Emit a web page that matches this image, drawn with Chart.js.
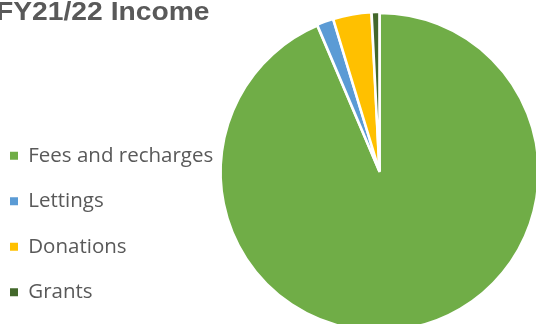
<!DOCTYPE html>
<html>
<head>
<meta charset="utf-8">
<script src="https://cdn.jsdelivr.net/npm/chart.js@4/dist/chart.umd.min.js"></script>
<style>
  html, body { margin: 0; padding: 0; background: #ffffff; overflow: hidden; width: 536px; height: 324px; }
  #wrap { position: absolute; left: -15px; top: 0; }
</style>
</head>
<body>
<div id="wrap"><canvas id="c" width="559" height="340"></canvas></div>
<script>
const TITLE = 'FY21/22 Income';
const CATEGORIES = ['Fees and recharges', 'Lettings', 'Donations', 'Grants'];
const VALUES = [93.6, 1.7, 3.9, 0.8];
const COLORS = ['#70AD47', '#5B9BD5', '#FFC000', '#43682B'];

const legendWidthPlugin = {
  id: 'legendWidth',
  beforeInit(chart) {
    const orig = chart.legend.fit;
    chart.legend.fit = function () {
      orig.call(this);
      this.width = 230;
    };
  }
};

const titlePlugin = {
  id: 'stretchedTitle',
  afterDraw(chart) {
    const ctx = chart.ctx;
    ctx.save();
    ctx.fillStyle = '#595959';
    ctx.font = 'bold 25px "Liberation Sans", Arial, sans-serif';
    ctx.textBaseline = 'alphabetic';
    ctx.translate(11, 19.5);
    ctx.scale(1.13, 1);
    ctx.fillText(TITLE, 0, 0);
    ctx.restore();
  }
};

new Chart(document.getElementById('c'), {
  type: 'pie',
  data: {
    labels: CATEGORIES,
    datasets: [{
      data: VALUES,
      backgroundColor: COLORS,
      borderColor: '#ffffff',
      borderWidth: 2.5,
      offset: 2,
      hoverOffset: 0,
      clip: false
    }]
  },
  options: {
    responsive: false,
    devicePixelRatio: 1,
    animation: false,
    radius: 158.5,
    rotation: 0,
    layout: { padding: { left: 0, right: 0, top: 15.5, bottom: 12.5 } },
    plugins: {
      title: { display: false },
      tooltip: { enabled: false },
      legend: {
        display: true,
        position: 'left',
        align: 'end',
        labels: {
          boxWidth: 8,
          boxHeight: 8,
          padding: 25,
          color: '#595959',
          font: { family: '"Open Sans", sans-serif', size: 20.5 },
          generateLabels(chart) {
            return CATEGORIES.map((t, i) => ({
              text: t,
              fillStyle: COLORS[i],
              strokeStyle: COLORS[i],
              lineWidth: 0,
              hidden: false,
              index: i,
              fontColor: '#595959'
            }));
          }
        }
      }
    }
  },
  plugins: [legendWidthPlugin, titlePlugin]
});
</script>
</body>
</html>
